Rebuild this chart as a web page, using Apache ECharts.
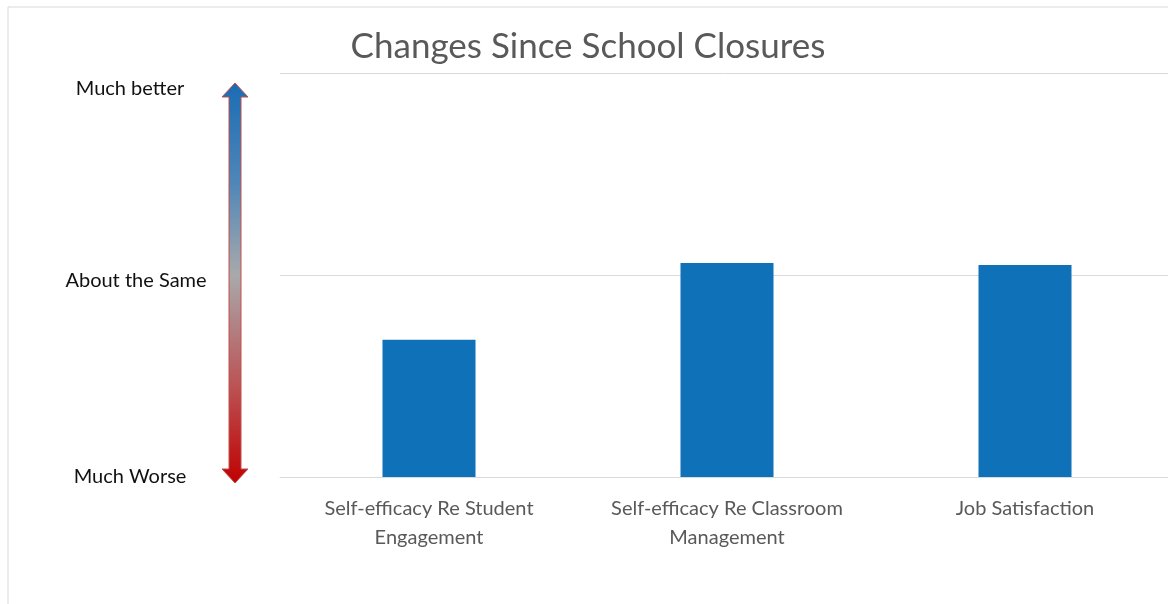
<!DOCTYPE html>
<html>
<head>
<meta charset="utf-8">
<title>Changes Since School Closures</title>
<script src="https://cdn.jsdelivr.net/npm/echarts@6/dist/echarts.min.js"></script>
<style>
  html, body { margin: 0; padding: 0; background: #fff; }
  #main { width: 1168px; height: 604px; }
</style>
</head>
<body>
<div id="main"></div>
<script>
// 0 = Much Worse, 2 = About the Same, 4 = Much better
var categories = [
  'Self-efficacy Re Student\nEngagement',
  'Self-efficacy Re Classroom\nManagement',
  'Job Satisfaction'
];
var changeValues = [1.36, 2.12, 2.10];
var tickValues = [0, 2, 4];
var tickLabels = ['Much Worse', 'About the Same', 'Much better'];

var FONT = 'Lato';
var chart = echarts.init(document.getElementById('main'));

var option = {
  backgroundColor: '#fff',
  animation: false,
  title: {
    text: 'Changes Since School Closures',
    left: 583,
    top: 24,
    textAlign: 'center',
    textStyle: {
      fontFamily: FONT,
      fontSize: 35,
      fontWeight: 'normal',
      color: '#595959'
    }
  },
  grid: {
    left: 280,
    width: 894,
    top: 73,
    bottom: 127,
    outerBoundsMode: 'none'
  },
  xAxis: {
    type: 'category',
    data: categories,
    axisLine: { lineStyle: { color: '#d9d9d9' } },
    axisTick: { show: false },
    axisLabel: {
      interval: 0,
      hideOverlap: false,
      margin: 17,
      fontFamily: FONT,
      fontSize: 20,
      lineHeight: 29,
      color: '#595959'
    }
  },
  yAxis: {
    type: 'value',
    min: 0,
    max: 4,
    interval: 2,
    axisLine: { show: false },
    axisTick: { show: false },
    splitLine: { lineStyle: { color: '#d9d9d9', width: 1 } },
    axisLabel: {
      margin: 150,
      align: 'center',
      formatter: function (v) {
        var i = tickValues.indexOf(v);
        return i < 0 ? '' : '{l' + i + '|' + tickLabels[i] + '}';
      },
      rich: {
        l0: { fontFamily: FONT, fontSize: 20, color: '#111', padding: [0, 0, 0, 0] },
        l1: { fontFamily: FONT, fontSize: 20, color: '#111', padding: [12, 0, 0, 12] },
        l2: { fontFamily: FONT, fontSize: 20, color: '#111', padding: [32, 0, 0, 0] }
      }
    }
  },
  series: [
    {
      type: 'bar',
      data: changeValues,
      barWidth: 93,
      itemStyle: { color: '#0f71b8' }
    }
  ]
};

chart.setOption(option);

// gradient double-headed arrow beside the labels, placed from the axis scale
var yTop = chart.convertToPixel({ yAxisIndex: 0 }, 4) + 10;
var yBot = chart.convertToPixel({ yAxisIndex: 0 }, 0) + 6;
var cx = 235, head = 14, halfHead = 13, halfShaft = 6;
var arrowPts = [
  [cx, yTop],
  [cx + halfHead, yTop + head],
  [cx + halfShaft, yTop + head],
  [cx + halfShaft, yBot - head],
  [cx + halfHead, yBot - head],
  [cx, yBot],
  [cx - halfHead, yBot - head],
  [cx - halfShaft, yBot - head],
  [cx - halfShaft, yTop + head],
  [cx - halfHead, yTop + head]
];

chart.setOption({
  graphic: [
    {
      type: 'rect',
      shape: { x: 8, y: 7, width: 1300, height: 800 },
      style: { fill: 'none', stroke: '#d9d9d9', lineWidth: 1 },
      silent: true
    },
    {
      type: 'polygon',
      shape: { points: arrowPts },
      style: {
        fill: new echarts.graphic.LinearGradient(0, 0, 0, 1, [
          { offset: 0, color: '#1a6cb4' },
          { offset: 0.25, color: '#4f86b8' },
          { offset: 0.48, color: '#a9a9ab' },
          { offset: 0.75, color: '#bb5557' },
          { offset: 1, color: '#c00000' }
        ]),
        stroke: '#c0504d',
        lineWidth: 1
      },
      silent: true
    }
  ]
});
</script>
</body>
</html>
